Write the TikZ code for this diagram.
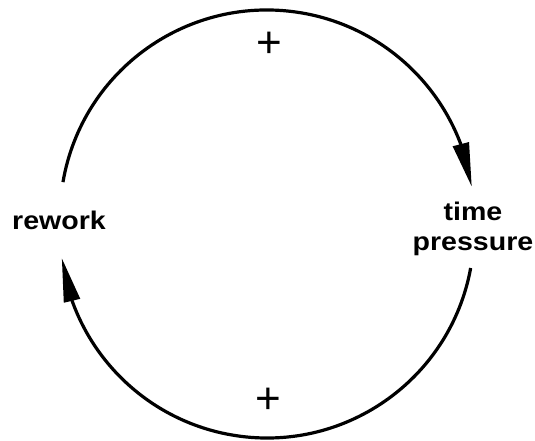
\documentclass[tikz,border=0pt]{standalone}
\usepackage{fontspec}
\setmainfont{Liberation Sans}
\newfontfamily\lblfont{Liberation Sans}[FakeStretch=1.12]
\usetikzlibrary{arrows.meta,bending}
\begin{document}
\begin{tikzpicture}[x=1pt,y=1pt,
  loopline/.style={line width=3.2pt,-{Triangle[length=44pt,width=16pt]}},
  varlabel/.style={font=\lblfont\bfseries\fontsize{25.5}{30}\selectfont,inner sep=0pt,align=center},
  polarity/.style={font=\fontsize{44}{44}\selectfont,inner sep=0pt}]
\useasboundingbox (0,0) rectangle (535,441);
\node[varlabel,anchor=base] (rework) at (59,211) {rework};
\node[varlabel,anchor=center] (tp) at (473,212.5) {time\\pressure};
\coordinate (topc) at (267,224);
\coordinate (botc) at (267,210);
\coordinate (topstart) at ([shift={(170.3:207)}]topc);
\coordinate (botstart) at ([shift={(-10.3:207)}]botc);
\draw[loopline] (topstart) arc[start angle=170.3,end angle=8.4,radius=207];
\draw[loopline] (botstart) arc[start angle=-10.3,end angle=-172.5,radius=207];
\node[polarity,anchor=base] (p1) at (269,383) {+};
\node[polarity,anchor=base] (p2) at (268,27) {+};
\end{tikzpicture}
\end{document}
